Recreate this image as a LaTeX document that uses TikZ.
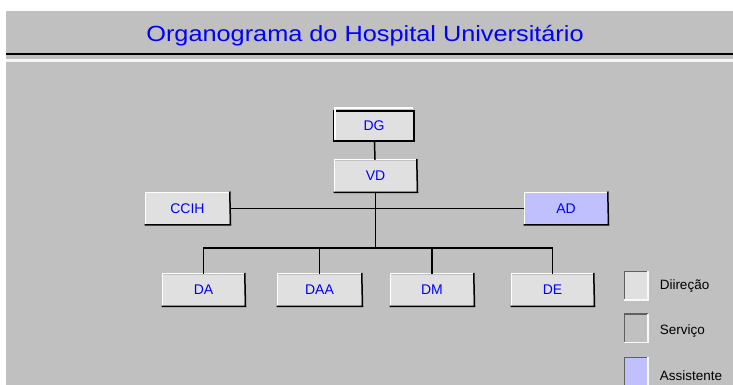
\documentclass[tikz,border=0pt]{standalone}
\usepackage{fontspec}
\setmainfont{Liberation Sans}
\definecolor{wingray}{HTML}{C0C0C0}
\definecolor{boxgray}{HTML}{E0E0E0}
\definecolor{assistblue}{HTML}{C0C0FF}
\definecolor{titleblue}{HTML}{0000FF}
\definecolor{darkedge}{HTML}{606060}

\begin{document}
\begin{tikzpicture}[x=1pt,y=-1pt,line width=1.5pt]
        \useasboundingbox (0,0) rectangle (733,385);
        \fill[wingray] (6,11) rectangle (733,385);
        \draw[black,line width=2.5pt] (6,54) -- (733,54);
        \draw[white!85!wingray,line width=2.5pt] (6,60.5) -- (733,60.5);
        \node (title) at (365,36) {\scalebox{1.15}[1]{\fontsize{22}{26}\selectfont\color{titleblue}Organograma do Hospital Universitário}};

        \begin{scope}[every node/.style={fill=boxgray,text=titleblue,inner sep=0pt,
                        minimum width=81pt, minimum height=31pt,
                        font=\fontsize{14}{16}\selectfont}]
        \node (DG) at (374,126) [draw=black,line width=2pt,minimum width=80pt,minimum height=30pt]{DG};
        \node (VD) at (375.5,176) {VD};
        \node (CCIH) at (187.5,208.5) [minimum width=83pt]{CCIH};
        \node (AD) at (566,208.5) [fill=assistblue,minimum width=82pt]{AD};
        \node (DA) at (203.5,290) {DA};
        \node (DAA) at (319.5,290) [minimum width=83pt]{DAA};
        \node (DM) at (432,290) [minimum width=82pt]{DM};
        \node (DE) at (552.5,290) {DE};
        \end{scope}

        % raised look of the boxes
        \foreach \n in {VD,CCIH,AD,DA,DAA,DM,DE}{
            \draw[white,line width=1.2pt] (\n.south west) -- (\n.north west) -- (\n.north east);
            \draw[black] ([xshift=-0.75pt]\n.south west) -- ([xshift=0.75pt]\n.south east)
                -- ([yshift=0.75pt]\n.north east);
        }
        \draw[white,line width=1.2pt] ([shift={(2pt,2pt)}]DG.south west) -- ([shift={(2pt,2pt)}]DG.north west)
            -- ([shift={(-2pt,2pt)}]DG.north east);

        \coordinate (bus) at (375.5,248);
        \path (DG) edge (VD);
        \path (VD) edge (bus);
        \path (CCIH) edge (AD);
        \draw (DA.north) |- (bus) -| (DE.north);
        \draw (DAA.north) -- (DAA.north |- bus);
        \draw (DM.north) -- (DM.north |- bus);

        % legenda
        \begin{scope}[every node/.style={inner sep=0pt,minimum width=22pt,minimum height=27pt}]
        \node (legDir) at (636,285.5) [fill=boxgray]{};
        \node (legServ) at (636,328) [fill=wingray]{};
        \node (legAss) at (636,371.5) [fill=assistblue]{};
        \end{scope}
        \foreach \n in {legDir,legServ,legAss}{
            \draw[darkedge] (\n.south west) -- (\n.north west) -- (\n.north east);
            \draw[white!90!wingray] (\n.south west) -- (\n.south east) -- (\n.north east);
        }
        \begin{scope}[every node/.style={anchor=west,inner sep=0pt,font=\fontsize{13.5}{15}\selectfont}]
        \node (txtDir) at (659,286) {Diireção};
        \node (txtServ) at (659,331) {Serviço};
        \node (txtAss) at (659,376) {Assistente};
        \end{scope}
\end{tikzpicture}
\end{document}
